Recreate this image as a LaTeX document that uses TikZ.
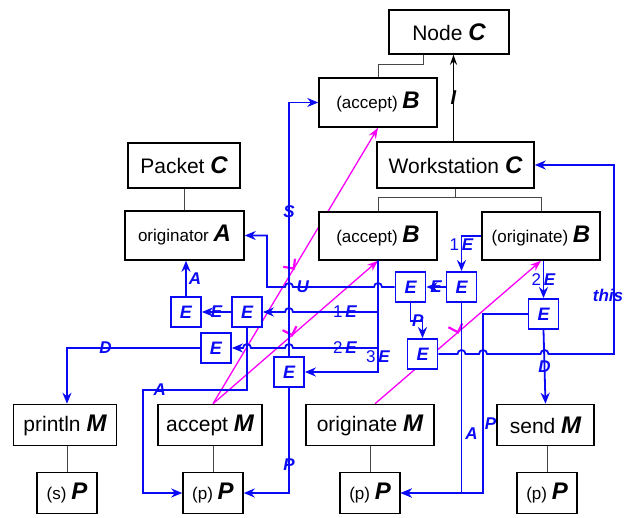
\documentclass[tikz,border=0pt]{standalone}
\usepackage{fontspec}
\setmainfont{Liberation Sans}
\usetikzlibrary{
  arrows.meta,
  calc,
  backgrounds,
  decorations.markings
}
\definecolor{linkblue}{RGB}{10,10,245}
\definecolor{hotpink}{RGB}{250,0,250}
\definecolor{treegray}{RGB}{70,70,70}
\newcommand{\bigtxt}{\fontsize{21}{24}\selectfont}
\newcommand{\smalltxt}{\fontsize{17}{20}\selectfont}
\newcommand{\lt}[1]{{\fontsize{24}{28}\selectfont\bfseries\itshape #1}}
\newcommand{\elbl}[2]{{\normalfont #1}\,#2}
\newcommand{\hopL}[2]{(#1+4,#2) arc[start angle=0,end angle=180,radius=4pt]}
\newcommand{\hopR}[2]{(#1-4,#2) arc[start angle=180,end angle=0,radius=4pt]}
\tikzset{
  box/.style={draw=black, line width=1.5pt, fill=white, inner sep=0pt, font=\bigtxt},
  sbox/.style={box, font=\smalltxt},
  ebox/.style={draw=linkblue, line width=1.8pt, fill=white, minimum size=30pt,
    inner sep=0pt, text=linkblue, font=\fontsize{18}{20}\selectfont\bfseries\itshape},
  flow/.style={linkblue, line width=1.8pt, -{Stealth[length=11pt,width=9pt]}},
  lbl/.style={text=linkblue, inner sep=1pt, font=\fontsize{17}{19}\selectfont\bfseries\itshape},
  tree/.style={treegray, line width=1pt},
  magarr/.style={hotpink, line width=1.3pt, -{Stealth[length=11pt,width=8pt]}},
  magtick/.style={postaction={decorate, decoration={markings,
    mark=at position #1 with {\draw[hotpink, line width=2.2pt, -] (-4pt,10pt) -- (0pt,0pt) -- (9pt,4pt);}}}}
}

\begin{document}
\begin{tikzpicture}[x=1pt,y=-1pt]
  \useasboundingbox (0,0) rectangle (626,518);

  \node[box, minimum width=120pt, minimum height=44pt] (nodeC) at (449,32) {Node \lt{C}};
  \node[sbox, minimum width=118pt, minimum height=49pt] (acceptBtop) at (378,102.5) {(accept) \lt{B}};
  \node[box, minimum width=112pt, minimum height=45pt] (packetC) at (184,165.5) {Packet \lt{C}};
  \node[box, minimum width=157pt, minimum height=46pt] (workC) at (455.5,165) {Workstation \lt{C}};
  \node[sbox, minimum width=119pt, minimum height=49pt] (origA) at (184.5,235.5) {originator \lt{A}};
  \node[sbox, minimum width=118pt, minimum height=48pt] (acceptB) at (378,236) {(accept) \lt{B}};
  \node[sbox, minimum width=118pt, minimum height=48pt] (origB) at (541,236) {(originate) \lt{B}};

  \node[box, minimum width=103pt, minimum height=41pt] (printlnM) at (65,425) {println \lt{M}};
  \node[box, minimum width=104pt, minimum height=41pt] (acceptM) at (210,425) {accept \lt{M}};
  \node[box, minimum width=128pt, minimum height=41pt] (origM) at (370,425) {originate \lt{M}};
  \node[box, minimum width=97pt, minimum height=41pt] (sendM) at (545.5,425) {send \lt{M}};
  \node[sbox, minimum width=60pt, minimum height=41pt] (sP) at (67,493) {(s) \lt{P}};
  \node[sbox, minimum width=60pt, minimum height=41pt] (pPa) at (213,493) {(p) \lt{P}};
  \node[sbox, minimum width=60pt, minimum height=41pt] (pPo) at (370,493) {(p) \lt{P}};
  \node[sbox, minimum width=60pt, minimum height=41pt] (pPs) at (547,493) {(p) \lt{P}};

  \node[ebox] (e1) at (186,312) {E};
  \node[ebox] (e2) at (247,312) {E};
  \node[ebox] (e3) at (216,348) {E};
  \node[ebox] (e4) at (289,372) {E};
  \node[ebox] (e5) at (410.5,287) {E};
  \node[ebox] (e6) at (461.5,287) {E};
  \node[ebox] (e7) at (543.5,314) {E};
  \node[ebox] (e8) at (422.5,354) {E};

  \draw[tree] ([xshift=-26pt]nodeC.south) -- ++(0,10) -| (acceptBtop.north);
  \draw[tree] (packetC.south) -- (packetC.south |- origA.north);
  \draw[tree] (workC.south) -- ++(0,9) coordinate (wsplit) -| (acceptB.north)
    (wsplit) -| (origB.north);
  \draw[tree] (sP.north |- printlnM.south) -- (sP.north);
  \draw[tree] (pPa.north |- acceptM.south) -- (pPa.north);
  \draw[tree] (origM.south) -- (pPo.north);
  \draw[tree] (pPs.north |- sendM.south) -- (pPs.north);
  \draw[black, line width=1.3pt, -{Stealth[length=10pt,width=7pt]}] ([xshift=-2pt]workC.north)
    -- node[text=black, inner sep=0pt, font=\fontsize{20}{22}\selectfont\bfseries\itshape] {I}
    ([xshift=-2pt]workC.north |- nodeC.south);

  \draw[flow] (e4.north) -- node[lbl, pos=.57] {S} (e4.north |- acceptBtop.west) -- (acceptBtop.west);
  \draw[flow] (e4.south) -- node[lbl, pos=.73] {P} (e4.south |- pPa.east) -- (pPa.east);
  \draw[flow] (e5.west) -- \hopL{378}{287} -- node[lbl, pos=.88] {U} \hopL{289}{287}
    -- (267,287) |- (origA.east);
  \draw[flow] (e6.west) -- node[lbl] {E} (e5.east);
  \draw[flow] (origB.west) -| node[lbl, pos=.63] {\elbl{1}{E}} (e6.north);
  \draw[flow] (origB.south -| e7.north) -- node[lbl] {\elbl{2}{E}} (e7.north);
  \draw[flow] (e7.south) -- node[lbl] {D} (sendM.north);
  \draw[flow] (e8.east) -- \hopR{461.5}{354} -- \hopR{483}{354} -- \hopR{544.5}{354}
    -- (614,354) -- node[lbl, pos=.31, anchor=east, xshift=11pt] {this} (614,165) -- (workC.east);
  \draw[flow] (e7.west) -- (483,314) -- node[lbl, anchor=west, pos=.61] {P} (483,493) -- (pPo.east);
  \draw[flow] (e6.south) -- node[lbl, anchor=west, pos=.69, xshift=2pt] {A} (e6.south |- pPo.east) -- (pPo.east);
  \draw[flow] (e5.south) -- ++(0,18) -| node[lbl, pos=.3] {P} (e8.north);

  \draw[flow] (acceptB.south) -- (acceptB.south |- e2.east)
    -- node[lbl, pos=.39] {\elbl{1}{E}} \hopL{289}{312} -- (e2.east);
  \draw[flow] (acceptB.south) -- (acceptB.south |- e3.east)
    -- node[lbl, pos=.39] {\elbl{2}{E}} \hopL{289}{348} -- \hopL{247}{348} -- (e3.east);
  \draw[flow] (acceptB.south) -- node[lbl, pos=.86] {\elbl{3}{E}} (acceptB.south |- e4.east) -- (e4.east);

  \draw[flow] (e2.west) -- node[lbl] {E} (e1.east);
  \draw[flow] (e1.north) -- node[lbl, anchor=west, xshift=1pt] {A} (e1.north |- origA.south);
  \draw[flow] (e3.west) -| node[lbl, pos=.355] {D} ([xshift=2pt]printlnM.north);
  \draw[flow] (e2.south) |- node[lbl, pos=.92] {A} (143,390) |- (pPa.west);

  \begin{scope}[on background layer]
    \draw[magarr, magtick=.49] ([xshift=3pt]acceptM.north) -- (acceptBtop.south);
    \draw[magarr, magtick=.48] ([xshift=3pt]acceptM.north) -- (acceptB.south);
    \draw[magarr, magtick=.5] ([xshift=5pt]origM.north) -- (origB.south);
  \end{scope}
\end{tikzpicture}
\end{document}
